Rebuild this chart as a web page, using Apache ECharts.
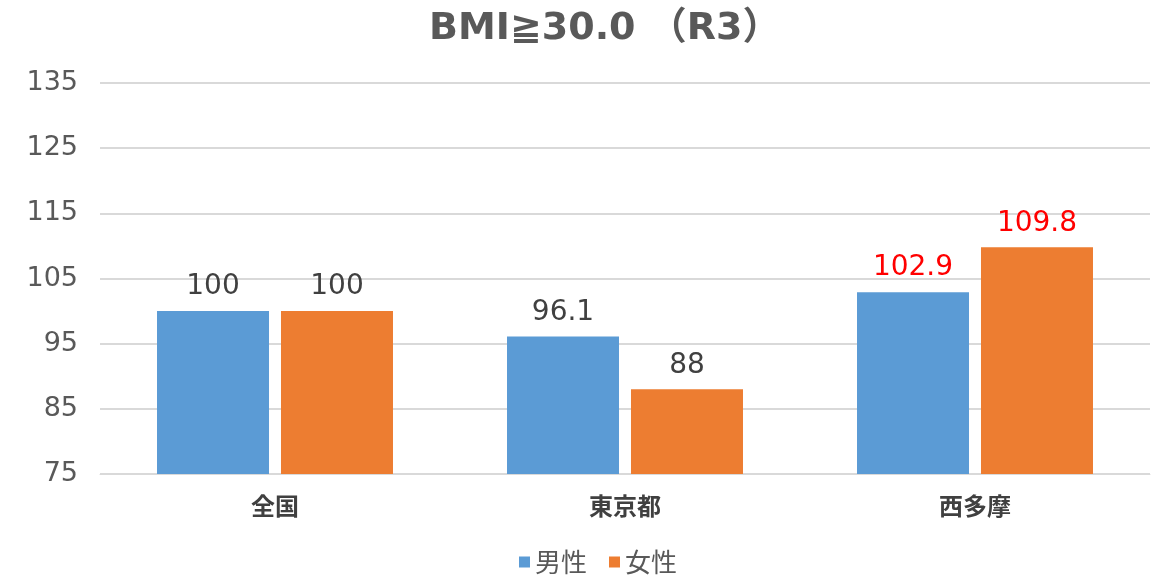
<!DOCTYPE html>
<html>
<head>
<meta charset="utf-8">
<script src="https://cdn.jsdelivr.net/npm/echarts@6/dist/echarts.min.js"></script>
<style>
html,body{margin:0;padding:0;background:#fff;}
#chart{width:1156px;height:580px;}
</style>
</head>
<body>
<div id="chart"></div>
<script>
var categories = ['全国', '東京都', '西多摩'];
var maleValues = [100, 96.1, 102.9];
var femaleValues = [100, 88, 109.8];
var highlightIndex = 2;

var font = '"DejaVu Sans", "Noto Sans CJK JP", sans-serif';
var cjkFont = '"Noto Sans CJK JP", sans-serif';

function makeData(values){
    return values.map(function(v, i){
        return {
            value: v,
            label: { color: i == highlightIndex ? '#ff0000' : '#404040' }
        };
    });
}

var chart = echarts.init(document.getElementById('chart'));
var option = {
    animation: false,
    title: {
        text: 'BMI≧30.0 （R3）',
        left: 424,
        top: 5,
        textStyle: { fontFamily: font, fontSize: 38, fontWeight: 'bold', color: '#595959' }
    },
    legend: {
        data: ['男性', '女性'],
        bottom: 0,
        left: 514,
        icon: 'rect',
        itemWidth: 11,
        itemHeight: 11,
        itemGap: 22,
        textStyle: { fontFamily: cjkFont, fontSize: 26, color: '#595959' }
    },
    grid: { left: 100, right: 6, top: 83, bottom: 106 },
    xAxis: {
        type: 'category',
        data: categories,
        axisLine: { lineStyle: { color: '#d9d9d9' } },
        axisTick: { show: false },
        axisLabel: { fontFamily: cjkFont, fontSize: 24, fontWeight: 'bold', color: '#404040', margin: 20 }
    },
    yAxis: {
        type: 'value',
        min: 75,
        max: 135,
        interval: 10,
        axisLine: { show: false },
        axisTick: { show: false },
        splitLine: { lineStyle: { color: '#d9d9d9', width: 2 } },
        axisLabel: { fontFamily: font, fontSize: 27, color: '#595959', margin: 22 }
    },
    series: [{
        name: '男性',
        type: 'bar',
        barWidth: 112,
        barGap: '10.7%',
        itemStyle: { color: '#5b9bd5' },
        label: { show: true, position: 'top', distance: 10, fontFamily: font, fontSize: 28 },
        data: makeData(maleValues)
    }, {
        name: '女性',
        type: 'bar',
        barWidth: 112,
        itemStyle: { color: '#ed7d31' },
        label: { show: true, position: 'top', distance: 10, fontFamily: font, fontSize: 28 },
        data: makeData(femaleValues)
    }]
};
chart.setOption(option);
</script>
</body>
</html>
